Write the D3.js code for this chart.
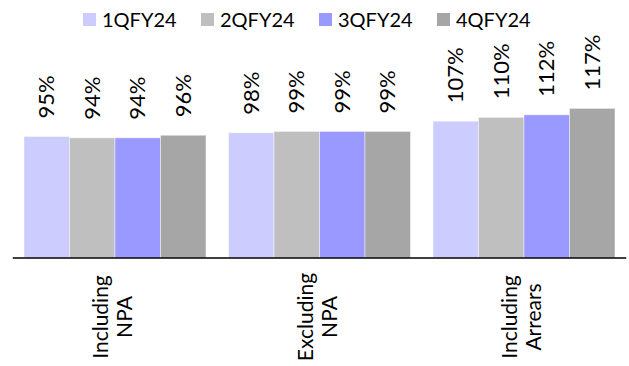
<!DOCTYPE html>
<html>
<head>
<meta charset="utf-8">
<script src="https://cdn.jsdelivr.net/npm/d3@7"></script>
<style>
  html, body { margin: 0; padding: 0; background: #fff; }
  svg { display: block; font-family: Lato, "Open Sans", sans-serif; }
</style>
</head>
<body>
<svg id="chart" width="629" height="366"></svg>
<script>
// Collection efficiency by quarter
const categories = [["Including", "NPA"], ["Excluding", "NPA"], ["Including", "Arrears"]];
const series = ["1QFY24", "2QFY24", "3QFY24", "4QFY24"];
const colors = ["#ccccff", "#bfbfbf", "#9999ff", "#a6a6a6"];
// values[series][category], in percent
const values = [
  [95, 98, 107],
  [94, 99, 110],
  [94, 99, 112],
  [96, 99, 117]
];

const svg = d3.select("#chart");
const baseY = 258;

const x0 = d3.scaleBand()
  .domain(d3.range(categories.length))
  .range([12.75, 626.25])
  .paddingInner(0.11)
  .paddingOuter(0.055);

const x1 = d3.scaleBand()
  .domain(series)
  .range([0, x0.bandwidth()])
  .padding(0);

const y = d3.scaleLinear().domain([0, 140]).range([baseY, 79]);

const color = d3.scaleOrdinal().domain(series).range(colors);

// bars
const groups = svg.append("g").selectAll("g")
  .data(categories)
  .join("g")
  .attr("transform", (d, i) => `translate(${x0(i)},0)`);

groups.selectAll("rect")
  .data((d, ci) => series.map((s, si) => ({ s, v: values[si][ci] })))
  .join("rect")
  .attr("x", d => x1(d.s))
  .attr("y", d => y(d.v))
  .attr("width", x1.bandwidth())
  .attr("height", d => y(0) - y(d.v))
  .attr("fill", d => color(d.s))
  .attr("stroke", "rgba(255,255,255,0.45)")
  .attr("stroke-width", 1);

// value labels, rotated
groups.selectAll("text.val")
  .data((d, ci) => series.map((s, si) => ({ s, v: values[si][ci] })))
  .join("text")
  .attr("class", "val")
  .attr("transform", d => `translate(${x1(d.s) + x1.bandwidth() / 2 + 7.5},${y(d.v) - 18}) rotate(-90)`)
  .attr("text-anchor", "start")
  .attr("font-size", 22)
  .attr("fill", "#000")
  .text(d => d.v + "%");

// baseline axis
svg.append("line")
  .attr("x1", x0.range()[0]).attr("x2", x0.range()[1])
  .attr("y1", baseY).attr("y2", baseY)
  .attr("stroke", "#000")
  .attr("stroke-width", 1.5);

// category labels, two rotated lines each
const catG = svg.append("g").selectAll("g")
  .data(categories)
  .join("g");

catG.each(function (lines, i) {
  const cx = x0(i) + x0.bandwidth() / 2;
  lines.forEach((t, li) => {
    d3.select(this).append("text")
      .attr("transform", `translate(${cx - 7 + li * 24},317) rotate(-90)`)
      .attr("text-anchor", "middle")
      .attr("font-size", 21)
      .attr("fill", "#000")
      .text(t);
  });
});

// legend
const legend = svg.append("g").selectAll("g")
  .data(series)
  .join("g")
  .attr("transform", (d, i) => `translate(${83 + i * 118},0)`);

legend.append("rect")
  .attr("x", 0).attr("y", 13)
  .attr("width", 13).attr("height", 13)
  .attr("fill", d => color(d));

legend.append("text")
  .attr("x", 19).attr("y", 27)
  .attr("font-size", 20)
  .attr("fill", "#000")
  .text(d => d);
</script>
</body>
</html>
